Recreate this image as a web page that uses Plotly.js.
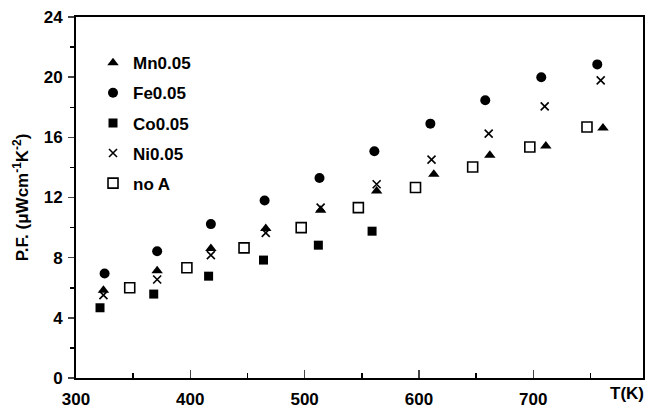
<!DOCTYPE html>
<html>
<head>
<meta charset="utf-8">
<script src="https://cdn.plot.ly/plotly-3.0.1.min.js"></script>
<style>html,body{margin:0;padding:0;background:#fff;}#chart{width:649px;height:412px;}</style>
</head>
<body>
<div id="chart"></div>
<script>
// Data (T in K, P.F. in µW cm^-1 K^-2)
var mnT = [324, 371, 418, 466, 514, 563, 613, 662, 711, 761];
var mnPF = [5.84, 7.13, 8.61, 9.94, 11.16, 12.44, 13.55, 14.81, 15.43, 16.62];
var feT = [325, 371, 418, 465, 513, 561, 610, 658, 707, 756];
var fePF = [6.95, 8.43, 10.23, 11.8, 13.3, 15.07, 16.91, 18.46, 20.0, 20.85];
var coT = [321, 368, 416, 464, 512, 559];
var coPF = [4.67, 5.58, 6.77, 7.84, 8.83, 9.76];
var niT = [324, 371, 418, 466, 514, 563, 611, 661, 710, 759];
var niPF = [5.51, 6.55, 8.17, 9.65, 11.33, 12.88, 14.52, 16.25, 18.06, 19.79];
var noAT = [347, 397, 447, 497, 547, 597, 647, 697, 747];
var noAPF = [6.0, 7.33, 8.65, 10.0, 11.33, 12.66, 14.03, 15.36, 16.69];
var names = ['Mn0.05', 'Fe0.05', 'Co0.05', 'Ni0.05', 'no A'];
var xTicks = [300, 400, 500, 600, 700];
var yTicks = [0, 4, 8, 12, 16, 20, 24];

var fnt = {family: 'Arial, "Liberation Sans", sans-serif', size: 17, color: '#000', weight: 'bold'};
function tr(x, y, name, sym, size, lw, grp) {
  return {x: x, y: y, name: name, type: 'scatter', mode: 'markers', legendgroup: grp,
    marker: {symbol: sym, size: size, color: '#000', line: {color: '#000', width: lw}}};
}
var data = [
  tr(mnT, mnPF, names[0], 'triangle-up', 10, 0, 'a'),
  tr(feT, fePF, names[1], 'circle', 10, 0, 'b'),
  tr(coT, coPF, names[2], 'square', 9, 0, 'c'),
  tr(niT, niPF, names[3], 'x-thin', 8, 1.6, 'd'),
  tr(noAT, noAPF, names[4], 'square-open', 10, 1.6, 'e')
];
var layout = {
  width: 649, height: 412,
  margin: {l: 76, r: 6, t: 17, b: 34},
  paper_bgcolor: '#fff', plot_bgcolor: '#fff',
  font: fnt,
  showlegend: true,
  legend: {x: 0.03, y: 0.922, xanchor: 'left', yanchor: 'top', bgcolor: 'rgba(0,0,0,0)',
    font: fnt, tracegroupgap: 5, traceorder: 'grouped', itemwidth: 30},
  xaxis: {range: [300, 796], tickvals: xTicks, ticks: 'inside', ticklen: 8, tickwidth: 1.5,
    showline: true, linewidth: 2, linecolor: '#000', mirror: true, showgrid: false, zeroline: false,
    tickfont: fnt, ticklabelstandoff: 5,
    minor: {dtick: 50, tick0: 300, ticks: 'inside', ticklen: 5, tickwidth: 1.5, tickcolor: '#000'}},
  yaxis: {range: [0, 24], tickvals: yTicks, ticks: 'outside', ticklen: 6, tickwidth: 1.5,
    showline: true, linewidth: 2, linecolor: '#000', mirror: true, showgrid: false, zeroline: false,
    tickfont: fnt, ticklabelstandoff: 2,
    minor: {dtick: 2, tick0: 0, ticks: 'outside', ticklen: 4, tickwidth: 1.5, tickcolor: '#000'},
    title: {text: 'P.F. (\u03bcWcm<sup>-1</sup>K<sup>-2</sup>)', font: fnt, standoff: 11}},
  annotations: [{text: 'T(K)', xref: 'paper', yref: 'paper', x: 1.005, y: -0.012, xanchor: 'right', yanchor: 'top',
    showarrow: false, font: fnt}]
};
Plotly.newPlot('chart', data, layout, {displayModeBar: false, staticPlot: true});
</script>
</body>
</html>
